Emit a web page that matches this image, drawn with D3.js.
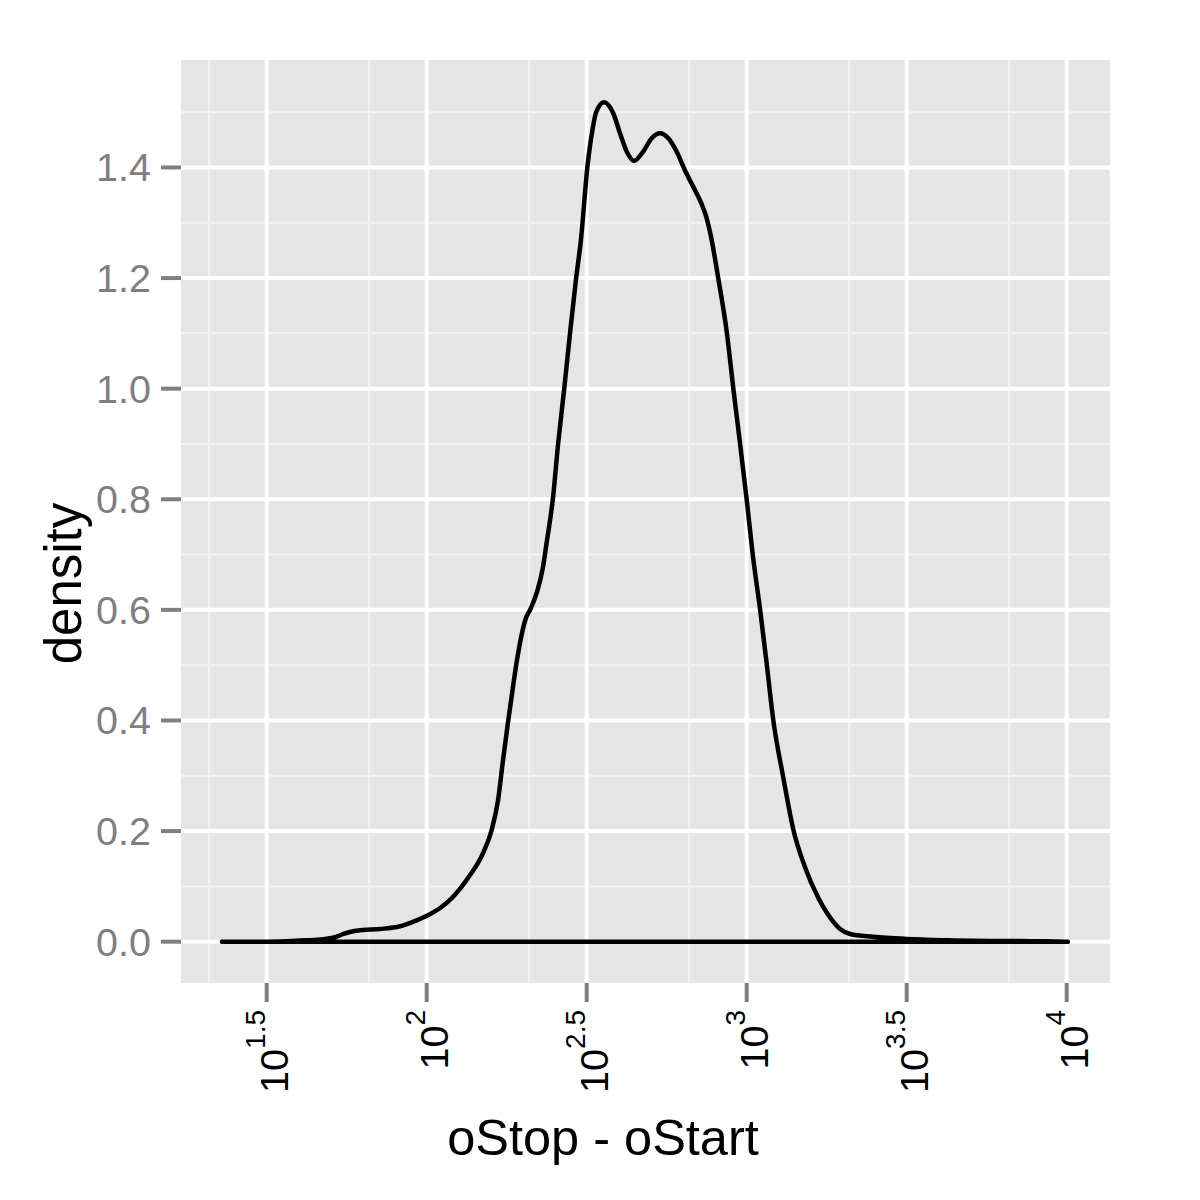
<!DOCTYPE html>
<html>
<head>
<meta charset="utf-8">
<script src="https://cdn.jsdelivr.net/npm/d3@7"></script>
<style>
  html, body { margin: 0; padding: 0; background: #ffffff; }
  svg { display: block; }
  text { font-family: "Liberation Sans", Arial, Helvetica, sans-serif; }
</style>
</head>
<body>
<svg id="chart" width="1200" height="1200"></svg>
<script>
// ---- data (x in log10 units of oStop - oStart, y = density) ----
const logX = [1.360, 1.501, 1.604, 1.667, 1.713, 1.740, 1.770, 1.800, 1.854, 1.917, 1.957,
  2.001, 2.042, 2.079, 2.129, 2.176, 2.203, 2.223, 2.238, 2.253, 2.267,
  2.281, 2.297, 2.310, 2.323, 2.344, 2.363, 2.376, 2.394, 2.411, 2.430,
  2.448, 2.467, 2.482, 2.502, 2.518, 2.529, 2.554, 2.583, 2.604, 2.625,
  2.648, 2.677, 2.703, 2.729, 2.755, 2.781, 2.807, 2.833, 2.859, 2.873,
  2.888, 2.911, 2.938, 2.958, 2.979, 3.000, 3.021, 3.042, 3.063, 3.083,
  3.114, 3.146, 3.182, 3.224, 3.251, 3.292, 3.323, 3.395, 3.500, 3.635,
  3.707, 3.792, 3.854, 3.932, 4.004];
const density = [0.000, 0.000, 0.002, 0.004, 0.008, 0.014, 0.019, 0.021, 0.023, 0.028, 0.036,
  0.047, 0.061, 0.079, 0.115, 0.160, 0.202, 0.256, 0.326, 0.392, 0.450,
  0.505, 0.556, 0.585, 0.600, 0.631, 0.676, 0.726, 0.799, 0.902, 1.001,
  1.101, 1.200, 1.269, 1.400, 1.468, 1.499, 1.518, 1.498, 1.462, 1.429,
  1.412, 1.429, 1.453, 1.462, 1.453, 1.429, 1.395, 1.365, 1.334, 1.312,
  1.276, 1.200, 1.101, 1.001, 0.902, 0.799, 0.690, 0.600, 0.500, 0.401,
  0.298, 0.202, 0.135, 0.079, 0.052, 0.023, 0.014, 0.009, 0.005, 0.0025,
  0.0016, 0.0013, 0.0014, 0.0007, 0.000];

const xMajorExp = [1.5, 2, 2.5, 3, 3.5, 4];
const xMajorLabels = ["1.5", "2", "2.5", "3", "3.5", "4"];
const xMinorExp = [1.32, 1.82, 2.32, 2.82, 3.32, 3.82];
const yMajor = [0.0, 0.2, 0.4, 0.6, 0.8, 1.0, 1.2, 1.4];
const yMajorLabels = ["0.0", "0.2", "0.4", "0.6", "0.8", "1.0", "1.2", "1.4"];
const yMinor = [0.1, 0.3, 0.5, 0.7, 0.9, 1.1, 1.3, 1.5];
const xTitle = "oStop - oStart";
const yTitle = "density";

// ---- layout ----
const panel = { left: 181, right: 1110, top: 60, bottom: 983 };
const svg = d3.select("#chart");

const x = d3.scaleLog()
  .domain([Math.pow(10, 1.2322), Math.pow(10, 4.1353)])
  .range([panel.left, panel.right]);
const y = d3.scaleLinear()
  .domain([-0.0747, 1.5943])
  .range([panel.bottom, panel.top]);

// panel background
svg.append("rect")
  .attr("x", panel.left).attr("y", panel.top)
  .attr("width", panel.right - panel.left)
  .attr("height", panel.bottom - panel.top)
  .attr("fill", "#e5e5e5");

const grid = svg.append("g");
// minor grid
grid.selectAll("line.xminor").data(xMinorExp).enter().append("line")
  .attr("x1", d => x(Math.pow(10, d))).attr("x2", d => x(Math.pow(10, d)))
  .attr("y1", panel.top).attr("y2", panel.bottom)
  .attr("stroke", "#f2f2f2").attr("stroke-width", 2);
grid.selectAll("line.yminor").data(yMinor).enter().append("line")
  .attr("y1", d => y(d)).attr("y2", d => y(d))
  .attr("x1", panel.left).attr("x2", panel.right)
  .attr("stroke", "#f2f2f2").attr("stroke-width", 2);
// major grid
grid.selectAll("line.xmajor").data(xMajorExp).enter().append("line")
  .attr("x1", d => x(Math.pow(10, d))).attr("x2", d => x(Math.pow(10, d)))
  .attr("y1", panel.top).attr("y2", panel.bottom)
  .attr("stroke", "#ffffff").attr("stroke-width", 4);
grid.selectAll("line.ymajor").data(yMajor).enter().append("line")
  .attr("y1", d => y(d)).attr("y2", d => y(d))
  .attr("x1", panel.left).attr("x2", panel.right)
  .attr("stroke", "#ffffff").attr("stroke-width", 4);

// density curve (closed along zero)
const pts = logX.map((v, i) => [Math.pow(10, v), density[i]]);
const line = d3.line()
  .x(d => x(d[0])).y(d => y(d[1]))
  .curve(d3.curveMonotoneX);
svg.append("path")
  .attr("d", line(pts) + "Z")
  .attr("fill", "none")
  .attr("stroke", "#000000")
  .attr("stroke-width", 4.5)
  .attr("stroke-linejoin", "round")
  .attr("stroke-linecap", "round");

// y axis ticks & labels
const yAxis = svg.append("g");
yAxis.selectAll("line").data(yMajor).enter().append("line")
  .attr("x1", panel.left - 20).attr("x2", panel.left)
  .attr("y1", d => y(d)).attr("y2", d => y(d))
  .attr("stroke", "#7f7f7f").attr("stroke-width", 4);
yAxis.selectAll("text").data(yMajor).enter().append("text")
  .attr("x", 151)
  .attr("y", d => y(d) + 14)
  .attr("text-anchor", "end")
  .attr("font-size", 39.5)
  .attr("fill", "#7f7f7f")
  .text((d, i) => yMajorLabels[i]);

// x axis ticks & labels
const xAxis = svg.append("g");
xAxis.selectAll("line").data(xMajorExp).enter().append("line")
  .attr("x1", d => x(Math.pow(10, d))).attr("x2", d => x(Math.pow(10, d)))
  .attr("y1", panel.bottom).attr("y2", panel.bottom + 19)
  .attr("stroke", "#7f7f7f").attr("stroke-width", 4);
xMajorExp.forEach((d, i) => {
  const px = x(Math.pow(10, d)) + 21.5;
  const py = 1010;
  const t = xAxis.append("text")
    .attr("transform", `translate(${px},${py}) rotate(-90)`)
    .attr("text-anchor", "end")
    .attr("fill", "#000000")
    .attr("font-size", 39.5);
  t.append("tspan").text("10");
  t.append("tspan").attr("dy", -23.5).attr("font-size", 28).text(xMajorLabels[i]);
});

// titles
svg.append("text")
  .attr("x", 603).attr("y", 1155)
  .attr("text-anchor", "middle")
  .attr("font-size", 50.5)
  .attr("fill", "#000000")
  .text(xTitle);
svg.append("text")
  .attr("transform", "translate(81,583.5) rotate(-90)")
  .attr("text-anchor", "middle")
  .attr("font-size", 51)
  .attr("fill", "#000000")
  .text(yTitle);
</script>
</body>
</html>
